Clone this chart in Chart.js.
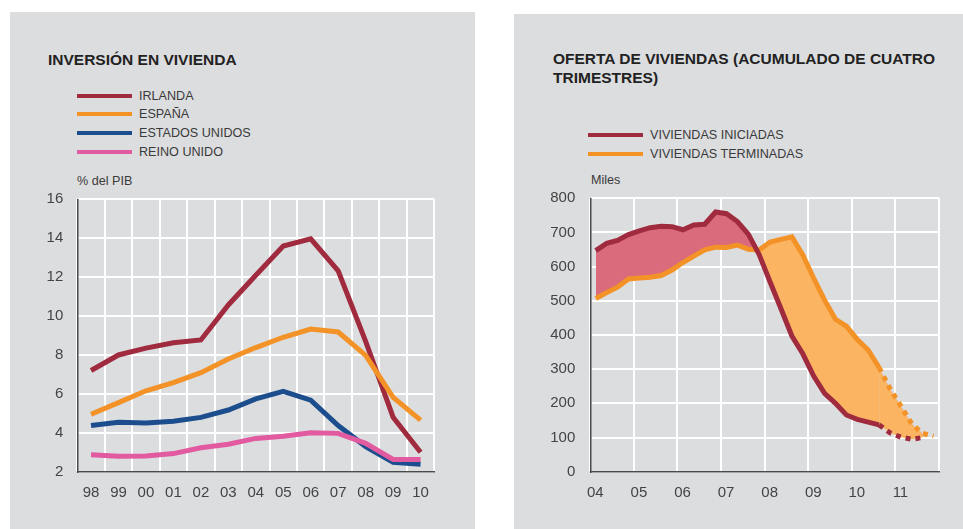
<!DOCTYPE html>
<html>
<head>
<meta charset="utf-8">
<script src="https://cdn.jsdelivr.net/npm/chart.js@4.4.1/dist/chart.umd.min.js"></script>
<style>
  body { margin: 0; width: 963px; height: 529px; background: #fff; position: relative; overflow: hidden;
         font-family: "Liberation Sans", Arial, sans-serif; color: #333; }
  .panel { position: absolute; background: #dcdddf; }
  .txt { position: absolute; white-space: nowrap; line-height: 1; }
  .titulo { font-size: 15.5px; font-weight: bold; color: #222; }
  .ley { font-size: 12.6px; color: #3a3a3a; }
  .raya { position: absolute; height: 4px; }
  canvas { position: absolute; }
</style>
</head>
<body>
<div class="panel" style="left:10px; top:12px; width:465px; height:520px;"></div>
<div class="panel" style="left:514px; top:14px; width:449px; height:520px;"></div>

<div class="txt titulo" style="left:48px; top:52px;">INVERSIÓN EN VIVIENDA</div>
<div id="leyIzq"></div>
<div class="txt ley" style="left:77px; top:174.5px;">% del PIB</div>

<div class="txt titulo" style="left:553px; top:51.3px;">OFERTA DE VIVIENDAS (ACUMULADO DE CUATRO</div>
<div class="txt titulo" style="left:553px; top:70.3px;">TRIMESTRES)</div>
<div id="leyDer"></div>
<div class="txt ley" style="left:591px; top:174px;">Miles</div>

<canvas id="graficoInversion" width="465" height="330" style="left:10px; top:190px;"></canvas>
<canvas id="graficoOferta" width="449" height="330" style="left:514px; top:190px;"></canvas>

<script>
// Inversion en vivienda (% del PIB)
const anios = ['98', '99', '00', '01', '02', '03', '04', '05', '06', '07', '08', '09', '10']
const irlanda = [7.2, 8.0, 8.35, 8.63, 8.77, 10.57, 12.1, 13.6, 13.97, 12.32, 8.7, 4.8, 3.0]
const espana = [4.95, 5.55, 6.16, 6.58, 7.09, 7.79, 8.38, 8.91, 9.33, 9.18, 7.98, 5.82, 4.65]
const estadosUnidos = [4.38, 4.54, 4.5, 4.59, 4.79, 5.17, 5.74, 6.13, 5.68, 4.37, 3.29, 2.48, 2.38]
const reinoUnido = [2.87, 2.79, 2.81, 2.93, 3.23, 3.41, 3.71, 3.82, 4.0, 3.97, 3.46, 2.63, 2.63]
const ticksPib = [2, 4, 6, 8, 10, 12, 14, 16]

// Oferta de viviendas (miles, acumulado de cuatro trimestres)
const trimestres = [
  'I-04', 'II-04', 'III-04', 'IV-04', 'I-05', 'II-05', 'III-05', 'IV-05',
  'I-06', 'II-06', 'III-06', 'IV-06', 'I-07', 'II-07', 'III-07', 'IV-07',
  'I-08', 'II-08', 'III-08', 'IV-08', 'I-09', 'II-09', 'III-09', 'IV-09',
  'I-10', 'II-10', 'III-10', 'IV-10', 'I-11', 'II-11', 'III-11', 'IV-11'
]
const ultimoReal = 'III-10'
const iniciadas = [647, 668, 677, 694, 705, 714, 718, 717, 708, 722, 724, 760, 755, 732, 695, 635,
  555, 477, 397, 345, 280, 229, 200, 166, 153, 145, 137, 114, 101, 95, 100]
const terminadas = [507, 524, 540, 564, 567, 569, 574, 590, 612, 631, 649, 657, 656, 663, 651, 649,
  672, 680, 687, 634, 566, 502, 446, 426, 387, 356, 305, 243, 192, 140, 112, 104]
const aniosOferta = [2004, 2005, 2006, 2007, 2008, 2009, 2010, 2011, 2012]

const rojo = '#a02a3e'
const naranja = '#f39226'
const azul = '#1c4e8e'
const rosa = '#e25aa0'

const fuenteTicks = { family: '"Liberation Sans", Arial, sans-serif', size: 15 }

// leyendas en html
const pintaLeyenda = (id, items, x, y0, paso) => {
  const cont = document.getElementById(id)
  items.forEach((it, i) => {
    const y = y0 + i * paso
    cont.insertAdjacentHTML('beforeend',
      `<div class="raya" style="left:${x}px; top:${y - 2}px; width:55px; background:${it[1]}"></div>` +
      `<div class="txt ley" style="left:${x + 62}px; top:${y - 6}px;">${it[0]}</div>`)
  })
}
pintaLeyenda('leyIzq', [['IRLANDA', rojo], ['ESPAÑA', naranja], ['ESTADOS UNIDOS', azul], ['REINO UNIDO', rosa]], 77, 95.5, 18.7)
pintaLeyenda('leyDer', [['VIVIENDAS INICIADAS', rojo], ['VIVIENDAS TERMINADAS', naranja]], 588, 135.2, 18.4)

const ejeComun = {
  grid: { color: '#ffffff', lineWidth: 2, drawTicks: false },
  border: { color: '#4a4a4a', width: 1.5 },
}

// el eje y fija su ancho y no reserva margen arriba/abajo (lo da layout.padding)
const fijaAncho = w => s => { s.width = w; s.paddingTop = 0; s.paddingBottom = 0 }

new Chart(document.getElementById('graficoInversion'), {
  type: 'line',
  data: {
    labels: anios,
    datasets: [
      { label: 'IRLANDA', data: irlanda, borderColor: rojo, order: 4 },
      { label: 'ESPAÑA', data: espana, borderColor: naranja, order: 3 },
      { label: 'ESTADOS UNIDOS', data: estadosUnidos, borderColor: azul, order: 2 },
      { label: 'REINO UNIDO', data: reinoUnido, borderColor: rosa, order: 1 }
    ]
  },
  options: {
    responsive: false,
    animation: false,
    layout: { padding: { left: 0, top: 9.3, right: 40.7, bottom: 0 } },
    elements: { line: { borderWidth: 5, tension: 0 }, point: { radius: 0 } },
    plugins: { legend: { display: false }, tooltip: { enabled: false } },
    scales: {
      x: {
        ...ejeComun,
        offset: true,
        grid: { ...ejeComun.grid, offset: true },
        ticks: { color: '#444', font: fuenteTicks, padding: 12, maxRotation: 0, autoSkip: false },
        afterFit: s => { s.height = 48.3 }
      },
      y: {
        ...ejeComun,
        min: 2, max: 16,
        afterBuildTicks: s => { s.ticks = ticksPib.map(v => ({ value: v })) },
        ticks: { color: '#444', font: fuenteTicks, padding: 14 },
        afterFit: fijaAncho(67.3)
      }
    }
  }
})

// posicion de cada trimestre en el eje (mitad del trimestre)
const posTrimestre = t => {
  const [q, a] = t.split('-')
  const nq = { I: 1, II: 2, III: 3, IV: 4 }[q]
  return 2000 + Number(a) + (nq - 0.5) / 4
}
const idxReal = trimestres.indexOf(ultimoReal)
const punteado = ctx => ctx.p0DataIndex >= idxReal ? [5, 5] : undefined

new Chart(document.getElementById('graficoOferta'), {
  type: 'line',
  data: {
    datasets: [
      {
        label: 'VIVIENDAS INICIADAS',
        data: iniciadas.map((v, i) => ({ x: posTrimestre(trimestres[i]), y: v })),
        borderColor: rojo,
        fill: { target: 1, above: '#d96b7d', below: '#fbb562' },
        segment: { borderDash: punteado }
      },
      {
        label: 'VIVIENDAS TERMINADAS',
        data: terminadas.map((v, i) => ({ x: posTrimestre(trimestres[i]), y: v })),
        borderColor: naranja,
        fill: false,
        segment: { borderDash: punteado }
      }
    ]
  },
  options: {
    responsive: false,
    animation: false,
    layout: { padding: { left: 0, top: 8.3, right: 24, bottom: 0 } },
    elements: { line: { borderWidth: 5, tension: 0 }, point: { radius: 0 } },
    plugins: { legend: { display: false }, tooltip: { enabled: false }, filler: { drawTime: 'beforeDatasetsDraw' } },
    scales: {
      x: {
        ...ejeComun,
        type: 'linear',
        min: 2004, max: 2012,
        afterBuildTicks: s => { s.ticks = aniosOferta.map(v => ({ value: v })) },
        ticks: {
          color: '#444', font: fuenteTicks, padding: 12, maxRotation: 0, labelOffset: 5,
          callback: v => v < 2012 ? String(v).slice(2) : ''
        },
        afterFit: s => { s.height = 48.3 }
      },
      y: {
        ...ejeComun,
        min: 0, max: 800,
        ticks: { color: '#444', font: fuenteTicks, padding: 15, stepSize: 100 },
        afterFit: fijaAncho(76.3)
      }
    }
  }
})
</script>
</body>
</html>
